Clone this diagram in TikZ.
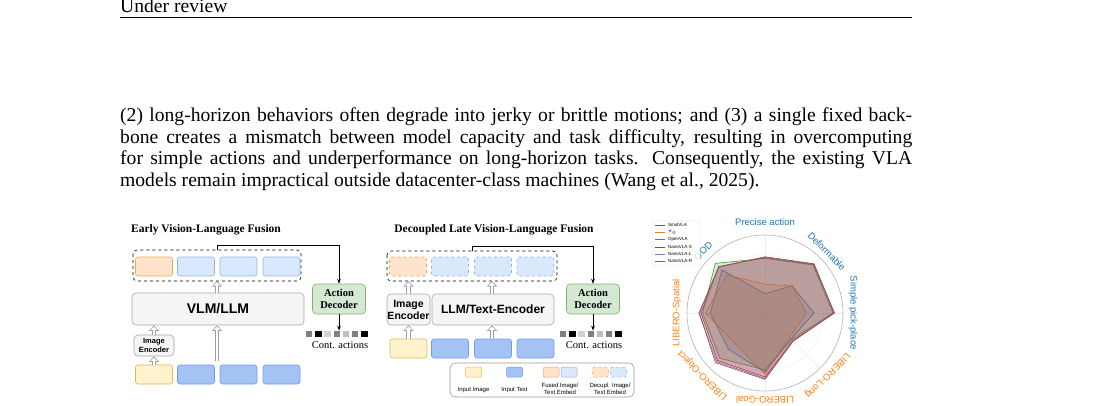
\documentclass[tikz,border=0pt]{standalone}
\usepackage{fontspec}
\setmainfont{Liberation Serif}
\setsansfont{Liberation Sans}
\usetikzlibrary{positioning,arrows.meta,calc}
\definecolor{imgfill}{HTML}{FFF2CC}\definecolor{imgdraw}{HTML}{E6B94D}
\definecolor{txtfill}{HTML}{A4C2F4}\definecolor{txtdraw}{HTML}{6D9EEB}
\definecolor{fusfill}{HTML}{FFE3CC}\definecolor{fusdraw}{HTML}{EBAA4A}
\definecolor{lbfill}{HTML}{DAE8FC}\definecolor{lbdraw}{HTML}{8EB1E6}
\definecolor{decfill}{HTML}{D5E8D4}\definecolor{decdraw}{HTML}{82B366}
\definecolor{tabblue}{HTML}{1F77B4}\definecolor{taborange}{HTML}{FF7F0E}
\definecolor{tabgreen}{HTML}{2CA02C}\definecolor{tabred}{HTML}{D62728}
\definecolor{tabpurple}{HTML}{9467BD}\definecolor{tabbrown}{HTML}{8C564B}
\newcommand{\hollowarrow}[2]{%
  \draw[line width=4.6pt, gray!75, -{Triangle[length=5.5pt,width=10pt]}] #1 -- #2;
  \draw[line width=2.8pt, white, shorten >=1.3pt, -{Triangle[length=3.2pt,width=6.6pt]}] #1 -- #2;}
\newcommand{\radarpoly}[9]{\draw[#1] (90:#2) -- (45:#3) -- (0:#4) -- (-45:#5)
  -- (-90:#6) -- (-135:#7) -- (180:#8) -- (135:#9) -- cycle;}
\begin{document}
\begin{tikzpicture}[x=1pt,y=-1pt]
    \useasboundingbox (0,0) rectangle (1104,405);
    \tikzstyle{tok}=[rounded corners=2.5, minimum width=37pt, minimum height=19pt, inner sep=0pt, line width=0.6pt]
    \tikzstyle{fus}=[tok, fill=fusfill, draw=fusdraw]
    \tikzstyle{lb}=[tok, fill=lbfill, draw=lbdraw]
    \tikzstyle{img}=[tok, fill=imgfill, draw=imgdraw]
    \tikzstyle{txt}=[tok, fill=txtfill, draw=txtdraw]
    \tikzstyle{gbox}=[rounded corners=4, fill=gray!8, draw=gray!70, line width=0.6pt, inner sep=0pt, font=\sffamily]
    \tikzstyle{dec}=[rounded corners=4, fill=decfill, draw=decdraw, line width=0.6pt, minimum width=53pt, minimum height=30pt, inner sep=0pt, align=center, font=\fontsize{10.5}{11.5}\selectfont\bfseries]
    \tikzstyle{sq}=[minimum size=6.5pt, inner sep=0pt]
    \tikzstyle{title}=[font=\fontsize{11.5}{13}\selectfont\bfseries]
    \tikzstyle{para}=[anchor=base west, inner sep=0pt, font=\fontsize{19.6}{21}\selectfont]

    % page text
    \node[anchor=base west, inner sep=0pt, font=\fontsize{19.6}{21}\selectfont] (head) at (120,12) {Under review};
    \draw[line width=0.5pt] (120,17) -- (912,17);
    \node[para] (p1) at (120,121) {\makebox[792pt][s]{(2) long-horizon behaviors often degrade into jerky or brittle motions; and (3) a single fixed back-}};
    \node[para] (p2) at (120,143) {\makebox[792pt][s]{bone creates a mismatch between model capacity and task difficulty, resulting in overcomputing}};
    \node[para] (p3) at (120,164) {\makebox[792pt][s]{for simple actions and underperformance on long-horizon tasks. Consequently, the existing VLA}};
    \node[para] (p4) at (120,186) {models remain impractical outside datacenter-class machines (Wang et al., 2025).};

    % early fusion
    \node[title] (e-title) at (206,230) {Early Vision-Language Fusion};
    \draw[rounded corners=4, dashed, line width=0.6pt] (133,250) rectangle (301,281);
    \node[fus] (e-tok1) at (154,266.5) {};
    \node[lb] (e-tok2) at (196,266.5) {};
    \node[lb] (e-tok3) at (238.5,266.5) {};
    \node[lb] (e-tok4) at (281.5,266.5) {};
    \node[gbox, minimum width=172pt, minimum height=32pt, font=\sffamily\bfseries\fontsize{14}{16}\selectfont] (e-vlm) at (218,309) {VLM/LLM};
    \node[gbox, minimum width=40pt, minimum height=21pt, align=center, font=\sffamily\bfseries\fontsize{7.5}{9}\selectfont] (e-ienc) at (154,345.5) {Image\\Encoder};
    \node[img] (e-in1) at (154,374.5) {};
    \node[txt] (e-in2) at (196,374.5) {};
    \node[txt] (e-in3) at (238.5,374.5) {};
    \node[txt] (e-in4) at (281.5,374.5) {};
    \node[dec] (e-dec) at (339,299) {Action\\Decoder};
    \coordinate (e-top) at (217,250);
    \foreach \c [count=\i] in {gray,black,gray!35,gray,gray!50,gray,black}
        \node[sq, fill=\c] (e-sq\i) at (300+\i*9.2,334) {};
    \node[font=\fontsize{10.5}{11}\selectfont] (e-cont) at (340,345) {Cont. actions};
    \draw[-{Stealth[length=5pt]}, line width=0.6pt] (e-top) |- ++(0,-5) -| (e-dec.north);
    \draw[-{Stealth[length=5pt]}, line width=0.6pt] (e-dec.south) -- (e-sq4.north -| e-dec.south);
    \hollowarrow{(e-in1.north)}{(e-ienc.south)}
    \hollowarrow{(e-ienc.north)}{(e-vlm.south -| e-ienc.north)}
    \hollowarrow{(e-vlm.north -| e-top)}{(217,281)}
    \hollowarrow{(217,361)}{(e-vlm.south -| e-top)}

    % decoupled late fusion
    \node[title] (d-title) at (494,230) {Decoupled Late Vision-Language Fusion};
    \draw[rounded corners=4, dashed, line width=0.6pt] (387,251) rectangle (557,281);
    \node[fus, dashed] (d-tok1) at (408,266.5) {};
    \node[lb, dashed] (d-tok2) at (450,266.5) {};
    \node[lb, dashed] (d-tok3) at (493,266.5) {};
    \node[lb, dashed] (d-tok4) at (535.5,266.5) {};
    \node[gbox, minimum width=43pt, minimum height=31pt, align=center, font=\sffamily\bfseries\fontsize{10.5}{12}\selectfont] (d-ienc) at (408.5,309.5) {Image\\Encoder};
    \node[gbox, minimum width=122pt, minimum height=31pt, font=\sffamily\bfseries\fontsize{12}{14}\selectfont] (d-llm) at (493,309.5) {LLM/Text-Encoder};
    \node[img] (d-in1) at (408.5,348.5) {};
    \node[txt] (d-in2) at (450,348.5) {};
    \node[txt] (d-in3) at (493,348.5) {};
    \node[txt] (d-in4) at (535.5,348.5) {};
    \node[dec] (d-dec) at (593,299) {Action\\Decoder};
    \coordinate (d-top) at (472,251);
    \foreach \c [count=\i] in {gray,black,gray!35,gray,gray!50,gray,black}
        \node[sq, fill=\c] (d-sq\i) at (554+\i*9.2,334) {};
    \node[font=\fontsize{10.5}{11}\selectfont] (d-cont) at (594,345) {Cont. actions};
    \draw[-{Stealth[length=5pt]}, line width=0.6pt] (d-top) |- ++(0,-5) -| (d-dec.north);
    \draw[-{Stealth[length=5pt]}, line width=0.6pt] (d-dec.south) -- (d-sq4.north -| d-dec.south);
    \hollowarrow{(d-in1.north)}{(d-ienc.south)}
    \hollowarrow{(d-ienc.north)}{(408.5,281)}
    \hollowarrow{(d-in3.north -| 492,0)}{(d-llm.south -| 492,0)}
    \hollowarrow{(d-llm.north -| 492,0)}{(492,281)}

    % legend
    \draw[rounded corners=5, gray!80, line width=0.6pt] (450,363) rectangle (634,397);
    \tikzstyle{lg}=[rounded corners=1.5, minimum width=16pt, minimum height=10pt, inner sep=0pt, line width=0.5pt]
    \tikzstyle{lgt}=[font=\sffamily\fontsize{6}{7}\selectfont, align=center, inner sep=0pt]
    \node[lg, fill=imgfill, draw=imgdraw] (lg-img) at (473.5,372) {};
    \node[lgt] (lg-img-t) at (473.5,390) {Input Image};
    \node[lg, fill=txtfill, draw=txtdraw] (lg-txt) at (514.5,372) {};
    \node[lgt] (lg-txt-t) at (514.5,390) {Input Text};
    \node[lg, fill=fusfill, draw=fusdraw] (lg-fus1) at (551,372) {};
    \node[lg, fill=lbfill, draw=lbdraw] (lg-fus2) at (569,372) {};
    \node[lgt] (lg-fus-t) at (560,389) {Fused Image/\\Text Embed};
    \node[lg, dashed, fill=fusfill, draw=fusdraw] (lg-dec1) at (600.5,372) {};
    \node[lg, dashed, fill=lbfill, draw=lbdraw] (lg-dec2) at (618.5,372) {};
    \node[lgt] (lg-dec-t) at (610,389) {Decupl. Image/\\Text Embed};

    % radar chart
    \begin{scope}[shift={(765,313)}, x=78pt, y=78pt]
        \foreach \r in {0.25,0.5,0.75}
            \draw[gray!15, line width=0.4pt] (0,0) circle (\r);
        \foreach \a in {90,45,...,-225}
            \draw[gray!15, line width=0.4pt] (0,0) -- (\a:1);
        \draw[gray!60, line width=0.6pt] (0,0) circle (1);
        \radarpoly{draw=tabblue, fill=tabblue, fill opacity=0.2, line width=0.6pt}{0.25}{0.49}{0.63}{0.47}{0.76}{0.66}{0.70}{0.78}
        \radarpoly{draw=taborange, fill=taborange, fill opacity=0.2, line width=0.6pt}{0.37}{0.49}{0.53}{0.44}{0.78}{0.55}{0.76}{0.69}
        \radarpoly{draw=tabgreen, fill=tabgreen, fill opacity=0.2, line width=0.6pt}{0.70}{0.87}{0.87}{0.48}{0.73}{0.82}{0.80}{0.90}
        \radarpoly{draw=tabred, fill=tabred, fill opacity=0.2, line width=0.6pt}{0.71}{0.88}{0.89}{0.50}{0.82}{0.86}{0.82}{0.84}
        \radarpoly{draw=tabpurple, fill=tabpurple, fill opacity=0.2, line width=0.6pt}{0.72}{0.89}{0.88}{0.51}{0.84}{0.88}{0.85}{0.83}
        \radarpoly{draw=tabbrown, fill=tabbrown, fill opacity=0.2, line width=0.6pt}{0.72}{0.89}{0.89}{0.51}{0.85}{0.90}{0.84}{0.84}
        \tikzstyle{axl}=[font=\sffamily\fontsize{9.5}{11}\selectfont, inner sep=0pt]
        \node[axl, text=tabblue] (ax1) at (90:1.17) {Precise action};
        \node[axl, text=tabblue, rotate=-45] (ax2) at (45:1.12) {Deformable};
        \node[axl, text=tabblue, rotate=-90] (ax3) at (0:1.13) {Simple pick-place};
        \node[axl, text=taborange, rotate=-135] (ax4) at (-45:1.13) {LIBERO-Long};
        \node[axl, text=taborange, rotate=180] (ax5) at (-90:1.12) {LIBERO-Goal};
        \node[axl, text=taborange, rotate=135] (ax6) at (-135:1.13) {LIBERO-Object};
        \node[axl, text=taborange, rotate=90] (ax7) at (180:1.13) {LIBERO-Spatial};
        \node[axl, text=tabblue, rotate=45] (ax8) at (135:1.12) {OOD};
    \end{scope}
    \draw[rounded corners=2, gray!30, fill=white, fill opacity=0.8, line width=0.4pt] (652,221) rectangle (700,266);
    \foreach \c/\t [count=\i] in {tabblue/SmolVLA, taborange/$\pi_0$, tabgreen/OpenVLA, tabred/NanoVLA-S, tabpurple/NanoVLA-L, tabbrown/NanoVLA-R}{
        \coordinate (rl\i) at (655,218+\i*7.2);
        \draw[\c, line width=0.6pt] (rl\i) -- ++(10,0);
        \node[anchor=west, font=\sffamily\fontsize{4.5}{5}\selectfont, inner sep=0pt] (rt\i) at (668,218+\i*7.2) {\t};
    }
\end{tikzpicture}
\end{document}
